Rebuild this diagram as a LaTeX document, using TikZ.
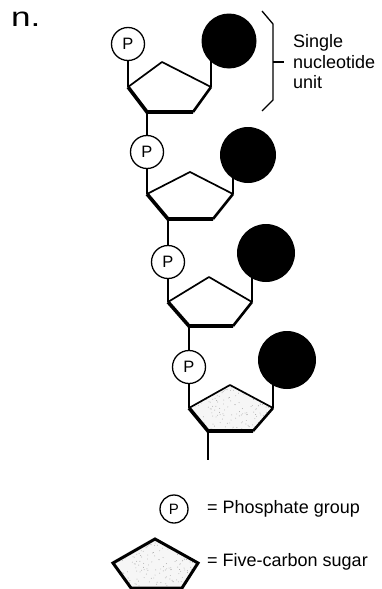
\documentclass[tikz,border=0pt]{standalone}
\usepackage{fontspec}
\setmainfont{Liberation Sans}
\usetikzlibrary{calc}
\begin{document}
\begin{tikzpicture}[x=1pt,y=-1pt,
  link/.style={line width=1.3pt},
  phos/.style={circle,draw,line width=1.3pt,fill=white,minimum size=33pt,inner sep=0pt,
               font=\fontsize{16.5}{16.5}\selectfont},
  legphos/.style={phos,minimum size=28pt,font=\fontsize{15}{15}\selectfont},
  base/.style={circle,fill=black,inner sep=0pt},
  sugartop/.style={line width=1.7pt,line join=round},
  sugarlow/.style={line width=3.6pt,line join=miter},
  sugarside/.style={line width=2.6pt},
  lbl/.style={font=\fontsize{18}{20.5}\selectfont,inner sep=0pt,anchor=west,align=left}]
\useasboundingbox (0,0) rectangle (382,589);

% stippled fill for a sugar ring given its five corners
\newcommand{\stippleshape}[5]{%
  \begin{scope}
    \clip #1 -- #2 -- #3 -- #4 -- #5 -- cycle;
    \fill[gray!7] #1 -- #2 -- #3 -- #4 -- #5 -- cycle;
    \pgfmathsetseed{4711}
    \foreach \i in {1,...,260}{
      \pgfmathsetmacro{\dx}{100*rnd-10}
      \pgfmathsetmacro{\dy}{55*rnd-30}
      \fill[gray!70] ($#1+(\dx,\dy)$) circle (0.45pt);
    }
  \end{scope}}

% figure letter
\node[inner sep=0pt,anchor=base west,font=\fontsize{27}{27}\selectfont] (tag) at (11,27) {\scalebox{1.3}[1]{n.}};

% sugar ring corners: left, top, right, lower right, lower left
\coordinate (s1l) at (128,87);  \coordinate (s1t) at (162,62);  \coordinate (s1r) at (211,87);
\coordinate (s1b) at (193,112); \coordinate (s1a) at (147,112);
\coordinate (s2l) at (147,194); \coordinate (s2t) at (190,172); \coordinate (s2r) at (233,194);
\coordinate (s2b) at (213,219); \coordinate (s2a) at (168,219);
\coordinate (s3l) at (168,302); \coordinate (s3t) at (209,277); \coordinate (s3r) at (252,302);
\coordinate (s3b) at (233,326); \coordinate (s3a) at (189,326);
\coordinate (s4l) at (189,408); \coordinate (s4t) at (230,385); \coordinate (s4r) at (273,408);
\coordinate (s4b) at (253,431); \coordinate (s4a) at (208,431);
\coordinate (tail) at (208,460);

% phosphate groups
\node[phos] (p1) at (128,44) {P};
\node[phos] (p2) at (147,152) {P};
\node[phos] (p3) at (168,262) {P};
\node[phos] (p4) at (189,367) {P};

% backbone links
\draw[link] (p1) -- (s1l);
\draw[link] (s1a) -- (p2);
\draw[link] (p2) -- (s2l);
\draw[link] (s2a) -- (p3);
\draw[link] (p3) -- (s3l);
\draw[link] (s3a) -- (p4);
\draw[link] (p4) -- (s4l);
\draw[link] (s4a) -- (tail);

% sugar-to-base links, then the bases on top of them
\draw[link] (s1r) -- (s1r |- 0,41);
\draw[link] (s2r) -- (s2r |- 0,155);
\draw[link] (s3r) -- (s3r |- 0,253);
\draw[link] (s4r) -- (s4r |- 0,360);
\node[base,minimum size=55pt] (b1) at (229,41) {};
\node[base,minimum size=56pt] (b2) at (248,155) {};
\node[base,minimum size=58pt] (b3) at (266,253) {};
\node[base,minimum size=58pt] (b4) at (287,360) {};

% sugars
\foreach \s in {1,2,3}{
  \fill[white] (s\s l) -- (s\s t) -- (s\s r) -- (s\s b) -- (s\s a) -- cycle;
}
\stippleshape{(s4l)}{(s4t)}{(s4r)}{(s4b)}{(s4a)}
\foreach \s in {1,2,3,4}{
  \draw[sugartop] (s\s l) -- (s\s t) -- (s\s r);
  \draw[sugarside] (s\s r) -- (s\s b);
  \draw[sugarlow] (s\s l) -- (s\s a) -- (s\s b);
}

% bracket marking one nucleotide
\coordinate (k1) at (262,11);
\coordinate (k2) at (273,24);
\coordinate (k3) at (273,100);
\coordinate (k4) at (262,111);
\coordinate (km) at (273,62);
\coordinate (kt) at (284,62);
\draw[line width=1.3pt] (k1) -- (k2) -- (k3) -- (k4);
\draw[line width=1.3pt] (km) -- (kt);
\node[lbl] (unit) at (293,62) {Single\\nucleotide\\unit};

% legend
\node[legphos] (lp) at (174,509) {P};
\node[lbl] (lptext) at (207,509) {= Phosphate group};
\coordinate (ll) at (113,563); \coordinate (lt) at (155,539); \coordinate (lr) at (198,563);
\coordinate (lb) at (182,588); \coordinate (la) at (131,588);
\stippleshape{(ll)}{(lt)}{(lr)}{(lb)}{(la)}
\draw[line width=3pt,line join=miter] (ll) -- (lt) -- (lr) -- (lb) -- (la) -- cycle;
\node[lbl] (lstext) at (207,562) {= Five-carbon sugar};
\end{tikzpicture}
\end{document}
